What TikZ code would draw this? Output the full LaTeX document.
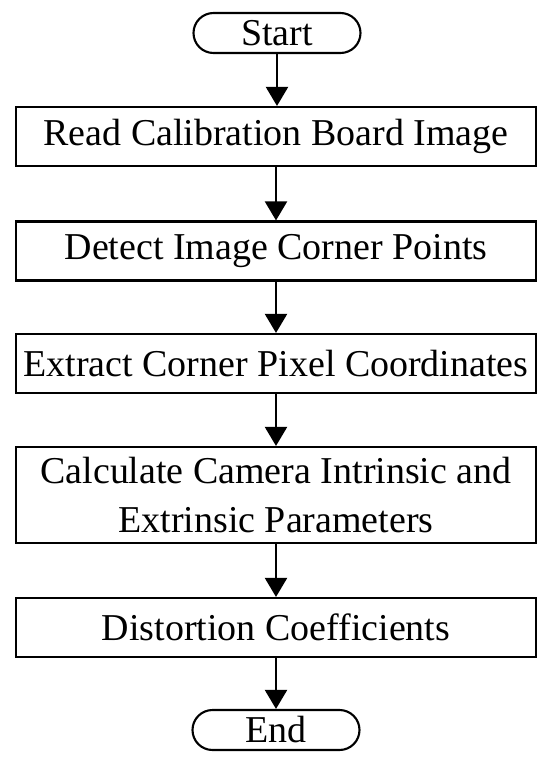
\documentclass[tikz,border=0pt]{standalone}
\usepackage{fontspec}
\setmainfont{Liberation Serif}
\usetikzlibrary{arrows.meta}

\begin{document}
\begin{tikzpicture}[
    box/.style={shape=rectangle, draw=black, line width=1.2pt, inner sep=1pt,
        minimum width=10.4cm, minimum height=1.18cm, align=center,
        font=\fontsize{21.6}{28.4}\selectfont},
    term/.style={shape=rectangle, rounded corners=0.4cm, draw=black, line width=1.2pt,
        minimum width=3.34cm, minimum height=0.8cm, inner sep=1pt,
        font=\fontsize{21.6}{28.4}\selectfont},
    flow/.style={line width=1.2pt, -{Triangle[width=0.44cm,length=0.38cm]}}]

    \useasboundingbox (0,0) rectangle (11,-15.26);

    \node[term] (S) at (5.54,-0.66) {Start};
    \node[box] (A) at (5.52,-2.73) {Read Calibration Board Image};
    \node[box] (B) at (5.52,-5.02) {Detect Image Corner Points};
    \node[box] (C) at (5.52,-7.27) {Extract Corner Pixel Coordinates};
    \node[box, minimum height=1.92cm] (D) at (5.52,-9.9) {Calculate Camera Intrinsic and\\Extrinsic Parameters};
    \node[box] (F) at (5.52,-12.55) {Distortion Coefficients};
    \node[term] (E) at (5.52,-14.6) {End};

    \draw[flow] (S) -- (S |- A.north);
    \draw[flow] (A) -- (B);
    \draw[flow] (B) -- (C);
    \draw[flow] (C) -- (D);
    \draw[flow] (D) -- (F);
    \draw[flow] (F) -- (E);

\end{tikzpicture}
\end{document}
